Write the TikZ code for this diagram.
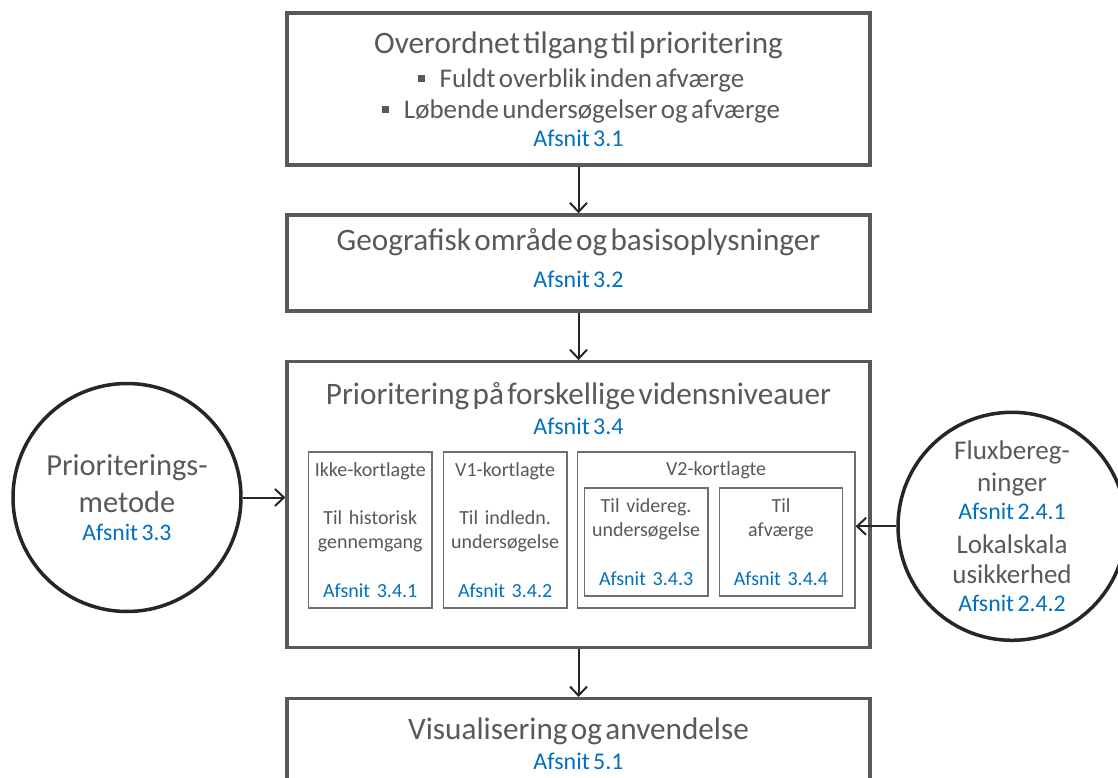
\documentclass[tikz,border=0pt]{standalone}
\usepackage{fontspec}
\setmainfont{Carlito}
\usetikzlibrary{arrows.meta, positioning}
\definecolor{textGray}{HTML}{595959}
\definecolor{frameGray}{HTML}{595959}
\definecolor{innerGray}{HTML}{6E6E6E}
\definecolor{ringDark}{HTML}{262626}
\definecolor{afsnitBlue}{HTML}{0070C0}
\newcommand{\fs}[2]{\fontsize{#1}{#2}\selectfont}
\newcommand{\afsnit}[1]{\textcolor{afsnitBlue}{Afsnit #1}}
\newcommand{\punkt}{\leavevmode\kern5pt\rule[5.6pt]{7pt}{7pt}\hspace{15pt}}
\newcommand{\dybde}[1]{\rule[-#1]{0pt}{#1}}
\tikzset{
  pil/.style={-{Straight Barb[length=9pt, width=17pt]}, ringDark, line width=2pt},
  hovedboks/.style={rectangle, draw=frameGray, line width=3.2pt, fill=white,
                    text=textGray, align=center, text width=560pt,
                    minimum width=583pt, inner sep=0pt},
  delboks/.style={rectangle, draw=innerGray, line width=1.4pt, text=textGray,
                  align=center, text width=121pt, minimum width=123.5pt,
                  inner sep=0pt, font=\fs{20}{24.2}},
  ring/.style={circle, draw=ringDark, line width=3.5pt, fill=white, text=textGray,
               align=center, minimum size=228pt, inner sep=0pt},
  tekst/.style={text=textGray, align=center, inner sep=0pt},
}
\begin{document}
\begin{tikzpicture}[x=1pt, y=-1pt]
  \useasboundingbox (0,0) rectangle (1118,778);

  \node[hovedboks, minimum height=152pt] (overblik) at (578.5,89)
    {\fs{31.2}{31}Overordnet tilgang til prioritering\\
     \fs{27}{34}\punkt Fuldt overblik inden afværge\\
     \fs{27}{31}\punkt Løbende undersøgelser og afværge\\
     \fs{24}{27.7}\afsnit{3.1}\par};
  \node[hovedboks, below=46.7pt of overblik, minimum height=96pt] (geo)
    {\fs{31.2}{31}Geografisk område og basisoplysninger\\
     \fs{24}{37.3}\afsnit{3.2}\dybde{10pt}\par};
  \node[hovedboks, below=47.6pt of geo, minimum height=285.7pt] (niveau) {};
  \node[hovedboks, below=48pt of niveau, minimum height=98pt] (visual)
    {\fs{31.2}{31}Visualisering og anvendelse\\
     \fs{24}{30.7}\afsnit{5.1}\dybde{8pt}\par};

  \node[tekst, text width=560pt, below=22pt of niveau.north] (niveautitel)
    {\fs{31.2}{31}Prioritering på forskellige vidensniveauer\\
     \fs{24}{30}\afsnit{3.4}\par};

  % vidensniveauer
  \node[delboks, minimum height=156pt] (ikke) at (370.25,530)
    {Ikke-kortlagte\\[24.2pt]Til historisk\\gennemgang\\[24.2pt]\afsnit{3.4.1}};
  \node[delboks, right=10pt of ikke, minimum height=156pt] (v1)
    {V1-kortlagte\\[24.2pt]Til indledn.\\undersøgelse\\[24.2pt]\afsnit{3.4.2}};
  \node[delboks, right=9pt of v1, minimum height=156pt, minimum width=277.6pt] (v2) {};
  \node[tekst, below=10pt of v2.north, font=\fs{20}{24.2}] (v2titel) {V2-kortlagte};
  \node[delboks, minimum height=108pt] (videreg) at (646.1,542)
    {Til videreg.\\undersøgelse\\[24.2pt]\afsnit{3.4.3}};
  \node[delboks, right=10pt of videreg, minimum height=108pt] (afvaerge)
    {Til\\afværge\\[24.2pt]\afsnit{3.4.4}};

  % input fra siderne
  \node[ring, text width=200pt] (metode) at (127,497.5)
    {\fs{30.5}{30}Prioriterings-\\
     \fs{30.5}{36.7}metode\\
     \fs{23.7}{28.3}\afsnit{3.3}\par};
  \node[ring, text width=125pt] (flux) at (1012,526.3)
    {\fs{27}{32}Fluxbereg-\\ninger\\
     \fs{23.8}{28.3}\afsnit{2.4.1}\\
     \fs{27}{33.3}Lokalskala\\
     \fs{27}{30}usikkerhed\\
     \fs{23.8}{28.3}\afsnit{2.4.2}\par};

  \draw[pil] (overblik) -- (geo);
  \draw[pil] (geo) -- (niveau);
  \draw[pil] (niveau) -- (visual);
  \draw[pil] (metode.east) -- (metode.east -| niveau.west);
  \draw[pil] (flux.west) -- (flux.west -| v2.east);
\end{tikzpicture}
\end{document}
